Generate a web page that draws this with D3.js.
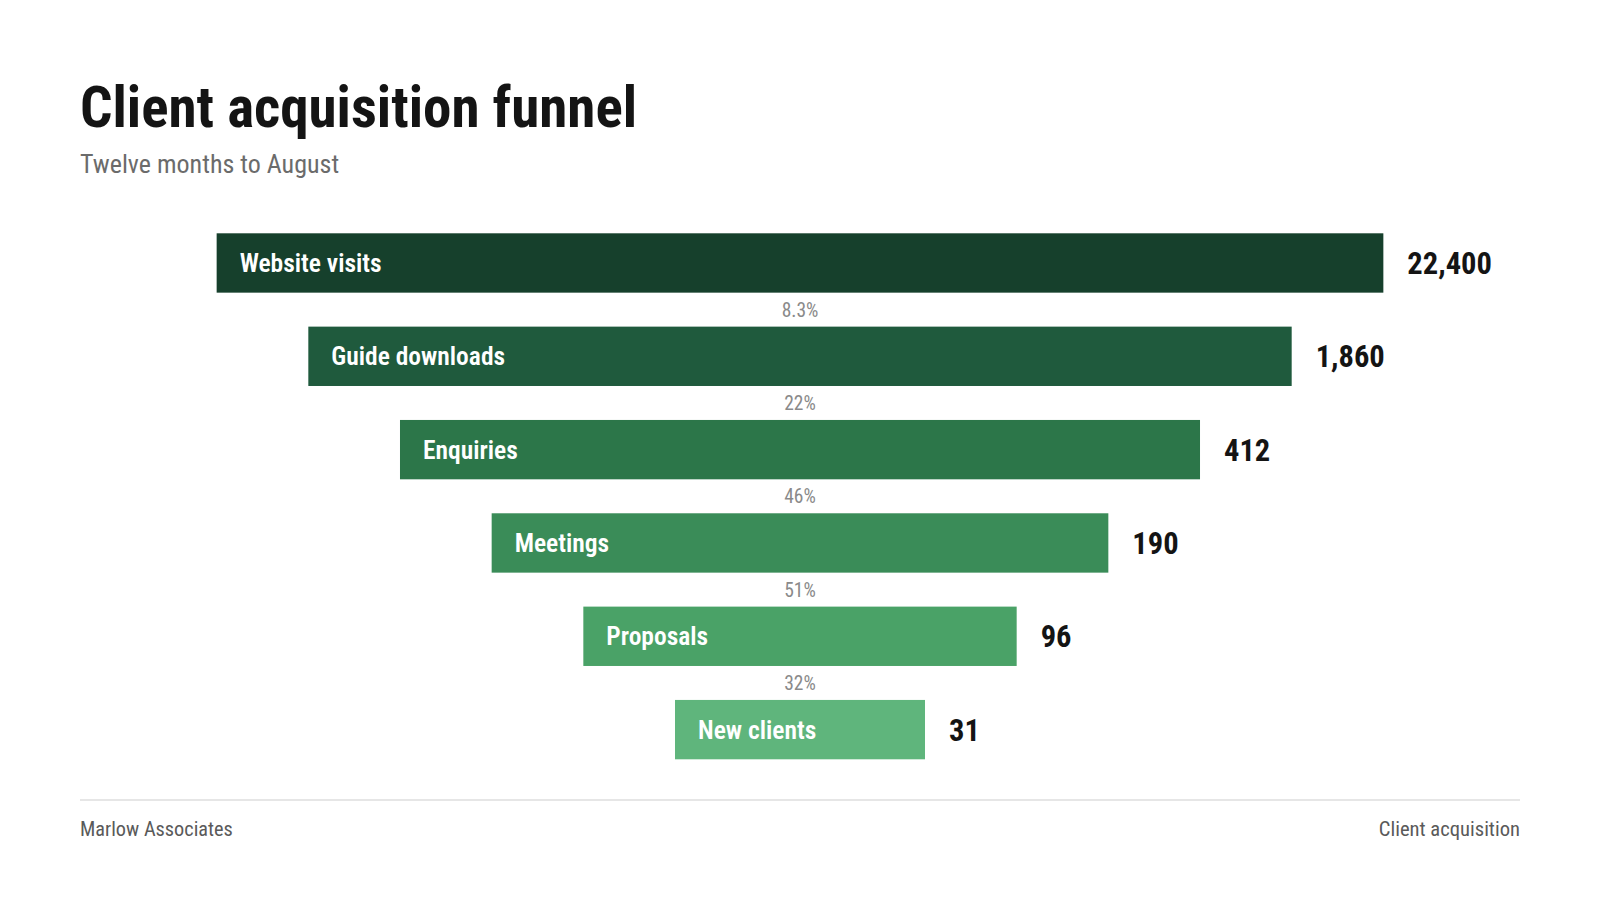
<!DOCTYPE html>
<html>
<head>
<meta charset="utf-8">
<script src="https://cdn.jsdelivr.net/npm/d3@7"></script>
<style>
  body { margin: 0; background: #fff; }
  svg { display: block; font-family: "Roboto Condensed", "DejaVu Sans Condensed", "DejaVu Sans", sans-serif; font-stretch: condensed; }
</style>
</head>
<body>
<div id="chart"></div>
<script>
// funnel stages
const stages = ["Website visits", "Guide downloads", "Enquiries", "Meetings", "Proposals", "New clients"];
const counts = [22400, 1860, 412, 190, 96, 31];
const conversion = ["8.3%", "22%", "46%", "51%", "32%"];
const colors = ["#16402c", "#1f5a3d", "#2c7649", "#3a8c58", "#4aa267", "#5fb57c"];

const width = 1600, height = 900;
const centerX = 800;

const svg = d3.select("#chart").append("svg")
  .attr("width", width)
  .attr("height", height);

// title block
svg.append("text")
  .attr("x", 80).attr("y", 127)
  .attr("font-size", 57).attr("font-weight", 700)
  .attr("fill", "#141414")
  .text("Client acquisition funnel");

svg.append("text")
  .attr("x", 80).attr("y", 173)
  .attr("font-size", 26)
  .attr("fill", "#6b6b6b")
  .text("Twelve months to August");

// rows
const y = d3.scaleBand()
  .domain(stages)
  .range([233.3, 759.3])
  .paddingInner(0.364)
  .paddingOuter(0);

// bar width steps down evenly by stage
const w = d3.scaleLinear()
  .domain([0, stages.length - 1])
  .range([1166.7, 250]);

const fmt = d3.format(",");

const rows = svg.append("g").selectAll("g")
  .data(stages)
  .join("g");

rows.append("rect")
  .attr("x", (d, i) => centerX - w(i) / 2)
  .attr("y", d => y(d))
  .attr("width", (d, i) => w(i))
  .attr("height", y.bandwidth())
  .attr("fill", (d, i) => colors[i]);

rows.append("text")
  .attr("x", (d, i) => centerX - w(i) / 2 + 23)
  .attr("y", d => y(d) + y.bandwidth() / 2)
  .attr("dy", "0.36em")
  .attr("font-size", 25.5).attr("font-weight", 600)
  .attr("fill", "#fff")
  .text(d => d);

rows.append("text")
  .attr("x", (d, i) => centerX + w(i) / 2 + 24)
  .attr("y", d => y(d) + y.bandwidth() / 2)
  .attr("dy", "0.36em")
  .attr("font-size", 30.5).attr("font-weight", 700)
  .attr("fill", "#141414")
  .text((d, i) => fmt(counts[i]));

// conversion between stages
svg.append("g").selectAll("text")
  .data(conversion)
  .join("text")
  .attr("x", centerX)
  .attr("y", (d, i) => (y(stages[i]) + y.bandwidth() + y(stages[i + 1])) / 2)
  .attr("dy", "0.36em")
  .attr("text-anchor", "middle")
  .attr("font-size", 19.5)
  .attr("fill", "#8a8a8a")
  .text(d => d);

// footer
svg.append("line")
  .attr("x1", 80).attr("x2", 1520)
  .attr("y1", 800).attr("y2", 800)
  .attr("stroke", "#e6e6e6").attr("stroke-width", 2);

svg.append("text")
  .attr("x", 80).attr("y", 836)
  .attr("font-size", 20.3)
  .attr("fill", "#5a5a5a")
  .text("Marlow Associates");

svg.append("text")
  .attr("x", 1520).attr("y", 836)
  .attr("text-anchor", "end")
  .attr("font-size", 20.6)
  .attr("fill", "#5a5a5a")
  .text("Client acquisition");
</script>
</body>
</html>
